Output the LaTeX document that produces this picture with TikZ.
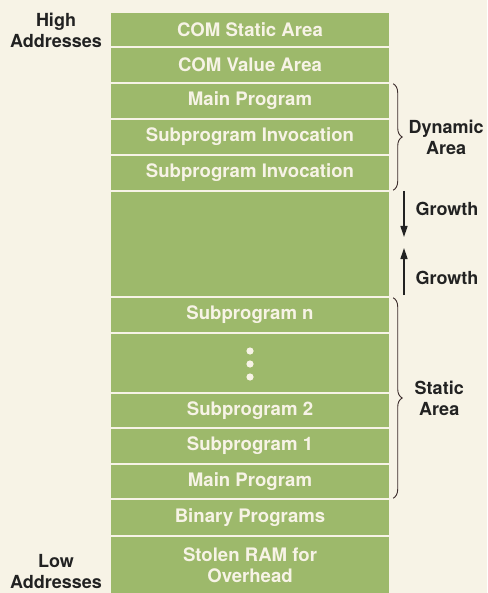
\documentclass[tikz,border=0pt]{standalone}
\usepackage{fontspec}
\setmainfont{TeX Gyre Heros}
\usetikzlibrary{decorations.pathreplacing,arrows.meta}
\definecolor{memgreen}{HTML}{9DB96B}
\definecolor{paper}{HTML}{F7F3E6}
\definecolor{ink}{HTML}{222222}
\definecolor{bracecol}{HTML}{3B2B2B}

\begin{document}
\begin{tikzpicture}[x=1pt,y=1pt,
        blk/.style={fill=memgreen,minimum width=278pt,inner sep=0pt,text=paper,
            font=\bfseries\fontsize{18.6}{20.5}\selectfont,align=center},
        lbl/.style={text=ink,font=\bfseries\fontsize{18}{21}\selectfont,
            align=center,inner sep=0pt},
        brc/.style={decorate,decoration={brace,amplitude=9pt},draw=bracecol,
            line width=0.9pt},
        growarr/.style={-{Triangle[length=11pt,width=7pt]},draw=ink,line width=1.4pt}]
\fill[paper] (0,0) rectangle (487,-593);
\useasboundingbox (0,0) rectangle (487,-593);

% memory blocks, high to low
\node[blk,minimum height=33pt] (cs) at (250,-29.5) {COM Static Area};
\node[blk,minimum height=34pt] (cv) at (250,-65) {COM Value Area};
\node[blk,minimum height=34pt] (mp) at (250,-101) {Main Program};
\node[blk,minimum height=34pt] (si1) at (250,-137) {Subprogram Invocation};
\node[blk,minimum height=34pt] (si2) at (250,-173) {Subprogram Invocation};
\node[blk,minimum height=104pt] (free) at (250,-244) {};
\node[blk,minimum height=34pt] (sn) at (250,-315) {Subprogram n};
\node[blk,minimum height=58pt] (dots) at (250,-363) {};
\node[blk,minimum height=33pt] (s2) at (250,-410.5) {Subprogram 2};
\node[blk,minimum height=34pt] (s1) at (250,-446) {Subprogram 1};
\node[blk,minimum height=33pt] (mps) at (250,-481.5) {Main Program};
\node[blk,minimum height=35pt] (bin) at (250,-517.5) {Binary Programs};
\node[blk,minimum height=56pt] (ram) at (250,-565) {Stolen RAM for\\Overhead};

\foreach \dy in {12,-1,-14}
    \fill[paper] ([yshift=\dy pt]dots.center) circle (3.6pt);

% address labels
\node[lbl] (high) at (56,-30) {High\\Addresses};
\node[lbl] (low) at (56,-572) {Low\\Addresses};

% areas
\draw[brc] ([xshift=4pt]mp.north east) -- ([xshift=4pt]si2.south east)
    node[midway,right=15pt,lbl] (dyn) {Dynamic\\Area};
\draw[brc] ([xshift=4pt]sn.north east) -- ([xshift=4pt]mps.south east)
    node[midway,right=21pt,lbl] (stat) {Static\\Area};

% growth
\coordinate (gd1) at (404,-191);
\coordinate (gd2) at (404,-237);
\coordinate (gu1) at (404,-295);
\coordinate (gu2) at (404,-248);
\draw[growarr] (gd1) -- (gd2);
\draw[growarr] (gu1) -- (gu2);
\node[lbl,anchor=base] (growdn) at (447,-216) {Growth};
\node[lbl,anchor=base] (growup) at (447,-284) {Growth};

\end{tikzpicture}
\end{document}
